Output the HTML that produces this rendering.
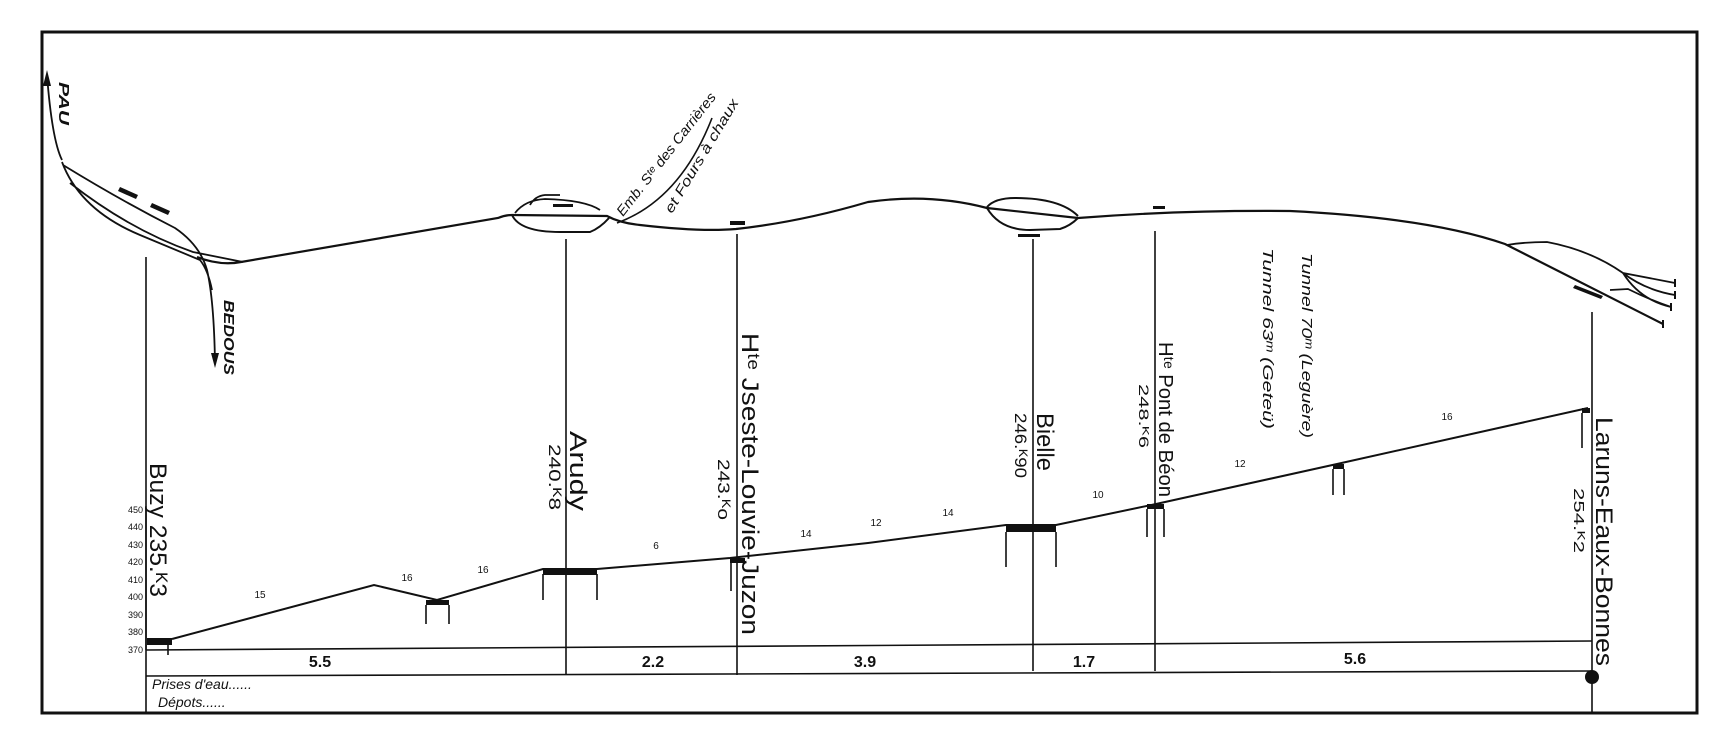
<!DOCTYPE html>
<html><head><meta charset="utf-8"><style>
html,body{margin:0;padding:0;background:#fff;}
svg{display:block;}
text{font-family:"Liberation Sans",sans-serif;fill:#111;}
.it{font-style:italic;}
</style></head><body>
<svg width="1736" height="735" viewBox="0 0 1736 735" xmlns="http://www.w3.org/2000/svg">
<rect width="1736" height="735" fill="#fff"/>
<!-- frame -->
<rect x="42" y="32" width="1655" height="681" fill="none" stroke="#111" stroke-width="3"/>
<g stroke="#111" fill="none" stroke-width="1.6">
<!-- station vertical lines -->
<line x1="146" y1="257" x2="146" y2="713"/>
<line x1="566" y1="239" x2="566" y2="675"/>
<line x1="737" y1="234" x2="737" y2="675"/>
<line x1="1033" y1="239" x2="1033" y2="671"/>
<line x1="1155" y1="231" x2="1155" y2="671"/>
<line x1="1592" y1="312" x2="1592" y2="713"/>
<!-- baselines -->
<line x1="146" y1="650" x2="1592" y2="641"/>
<line x1="146" y1="676" x2="1592" y2="671"/>
<line x1="146" y1="508" x2="146" y2="650"/>
<!-- profile -->
<polyline stroke-width="2" points="172,639 374,585 437,600 543,569 597,569 730,558 868,543 1006,525 1056,525 1156,504 1337,464 1588,408"/>
<!-- legs -->
<path d="M168 645V655 M426 605V624 M449 605V624 M543 574V600 M597 574V600 M731 563V591 M1006 532V567 M1056 532V567 M1147 509V537 M1164 509V537 M1333 469V495 M1344 469V495 M1582 413V448"/>
<!-- top track -->
<path stroke-width="2.2" d="M197 257 Q220 266 241 262 L498 218 Q505 215 512 215 L607 216 Q620 223 640 225 Q700 232 736 229 Q800 222 868 202 Q930 193 987 208 L1078 218 Q1180 210 1290 211 Q1430 218 1505 244 L1663 324"/>
<!-- Arudy loop -->
<path stroke-width="2" d="M512 215 Q520 232 560 232 L590 232 Q600 228 609 218"/>
<path stroke-width="1.8" d="M515 213 Q525 200 545 199 Q585 200 600 210 M530 205 Q535 196 545 195 L560 195"/>
<!-- Bielle loop -->
<path stroke-width="2" d="M987 207 Q995 198 1015 198 Q1060 198 1078 216 M987 208 Q1000 230 1030 230 L1060 229 Q1070 226 1078 218"/>
<!-- Emb branch -->
<path stroke-width="1.6" d="M617 223 Q680 200 712 118"/>
<!-- Pau / Bedous junction -->
<path stroke-width="1.8" d="M47 75 Q52 140 62 160 M63 165 Q120 200 175 228 Q200 245 207 270 Q214 300 215 363 M70 183 Q130 230 193 252 L243 262 M62 162 Q80 210 140 235 L200 260 Q208 270 212 290"/>
<path fill="#111" stroke="none" d="M47 70 L43 86 L51 86Z M215 368 L211 353 L219 353Z"/>
<!-- right end junction -->
<path stroke-width="1.8" d="M1507 245 Q1525 242 1547 242 Q1590 250 1623 273 L1675 283 M1623 273 Q1645 290 1675 295 M1623 273 Q1640 300 1671 307 M1610 290 L1628 289 Q1650 300 1671 307"/>
<path stroke-width="2" d="M1675 279V287 M1675 291V299 M1671 303V311 M1663 320V328"/>
</g>
<!-- platforms -->
<g fill="#111">
<rect x="147" y="638" width="25" height="7"/>
<rect x="426" y="600" width="23" height="5"/>
<rect x="543" y="569" width="54" height="6"/>
<rect x="730" y="558" width="15" height="5"/>
<rect x="1006" y="525" width="50" height="7"/>
<rect x="1147" y="504" width="17" height="5"/>
<rect x="1333" y="464" width="11" height="5"/>
<rect x="1582" y="408" width="8" height="5"/>
<rect x="553" y="204" width="20" height="3"/>
<rect x="730" y="221" width="15" height="4"/>
<rect x="1153" y="206" width="12" height="3"/>
<rect x="1018" y="234" width="22" height="3"/>
<circle cx="1592" cy="677" r="7"/>
<path d="M120 187 l18 8 l-2 4 l-18 -8z M152 203 l18 8 l-2 4 l-18 -8z M1575 285 l28 11 l-2 3 l-28 -11z"/>
</g>
<!-- elevation scale -->
<g font-size="9" text-anchor="end">
<text x="143" y="513">450</text><text x="143" y="530">440</text><text x="143" y="548">430</text>
<text x="143" y="565">420</text><text x="143" y="583">410</text><text x="143" y="600">400</text>
<text x="143" y="618">390</text><text x="143" y="635">380</text><text x="143" y="653">370</text>
</g>
<!-- grades -->
<g font-size="10" text-anchor="middle">
<text x="260" y="598">15</text><text x="407" y="581">16</text><text x="483" y="573">16</text>
<text x="656" y="549">6</text><text x="806" y="537">14</text><text x="876" y="526">12</text>
<text x="948" y="516">14</text><text x="1098" y="498">10</text><text x="1240" y="467">12</text>
<text x="1447" y="420">16</text>
</g>
<!-- distances -->
<g font-size="16" font-weight="bold" text-anchor="middle">
<text x="320" y="667">5.5</text><text x="653" y="667">2.2</text><text x="865" y="667">3.9</text>
<text x="1084" y="667">1.7</text><text x="1355" y="664">5.6</text>
</g>
<text class="it" x="152" y="689" font-size="14">Prises d'eau......</text>
<text class="it" x="158" y="707" font-size="14">Dépots......</text>
<!-- vertical station names -->
<g font-size="24">
<text transform="translate(150,463) rotate(90)" textLength="134" lengthAdjust="spacingAndGlyphs">Buzy 235.ᴷ3</text>
<text transform="translate(570,431) rotate(90)" textLength="80" lengthAdjust="spacingAndGlyphs">Arudy</text>
<text transform="translate(742,333) rotate(90)" textLength="302" lengthAdjust="spacingAndGlyphs">Hᵗᵉ Jseste-Louvie-Juzon</text>
<text transform="translate(1037,413) rotate(90)" textLength="58" lengthAdjust="spacingAndGlyphs">Bielle</text>
<text transform="translate(1159,342) rotate(90)" font-size="20" textLength="155" lengthAdjust="spacingAndGlyphs">Hᵗᵉ Pont de Béon</text>
<text transform="translate(1596,417) rotate(90)" textLength="249" lengthAdjust="spacingAndGlyphs">Laruns-Eaux-Bonnes</text>
</g>
<g font-size="17">
<text transform="translate(549,444) rotate(90)" textLength="66" lengthAdjust="spacingAndGlyphs">240.ᴷ8</text>
<text transform="translate(718,459) rotate(90)" textLength="61" lengthAdjust="spacingAndGlyphs">243.ᴷo</text>
<text transform="translate(1015,413) rotate(90)" textLength="65" lengthAdjust="spacingAndGlyphs">246.ᴷ90</text>
<text transform="translate(1139,384) rotate(90)" font-size="14" textLength="64" lengthAdjust="spacingAndGlyphs">248.ᴷ6</text>
<text transform="translate(1574,488) rotate(90)" font-size="15" textLength="65" lengthAdjust="spacingAndGlyphs">254.ᴷ2</text>
</g>
<g class="it" font-size="15">
<text transform="translate(1302,253) rotate(90)" textLength="185" lengthAdjust="spacingAndGlyphs">Tunnel 70ᵐ (Leguère)</text>
<text transform="translate(1263,248) rotate(90)" textLength="181" lengthAdjust="spacingAndGlyphs">Tunnel 63ᵐ (Geteü)</text>
</g>
<g font-weight="bold" class="it" font-size="15">
<text transform="translate(59,82) rotate(90)" textLength="43" lengthAdjust="spacingAndGlyphs">PAU</text>
<text transform="translate(224,300) rotate(90)" textLength="75" lengthAdjust="spacingAndGlyphs">BEDOUS</text>
</g>
<g class="it" font-size="14">
<text transform="translate(623,217) rotate(-52)" textLength="152" lengthAdjust="spacingAndGlyphs">Emb. Sᵗᵉ des Carrières</text>
<text transform="translate(672,214) rotate(-59)" textLength="130" lengthAdjust="spacingAndGlyphs">et Fours à chaux</text>
</g>
</svg>
</body></html>
